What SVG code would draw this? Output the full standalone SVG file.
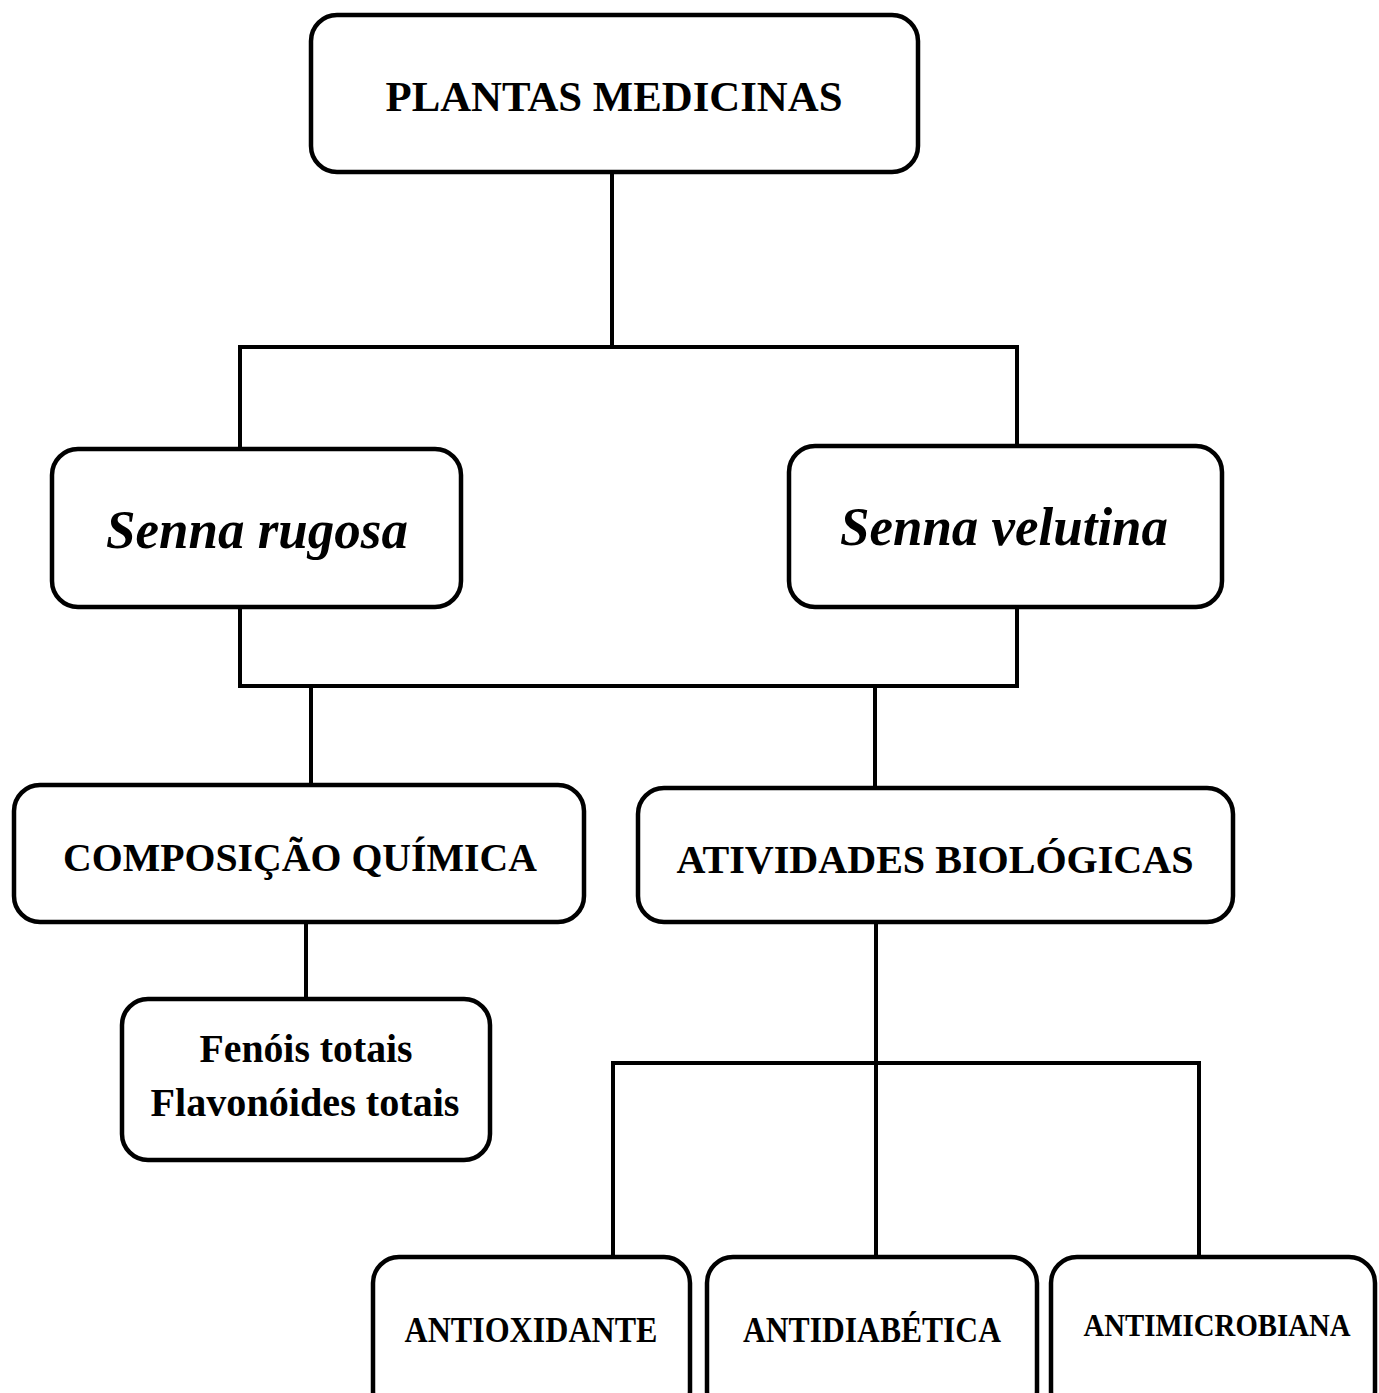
<svg xmlns="http://www.w3.org/2000/svg" width="1379" height="1393" viewBox="0 0 1379 1393">
<style>
.box{fill:#fff;stroke:#000;stroke-width:4.5}
.ln{fill:none;stroke:#000;stroke-width:4;stroke-linecap:square}
text{font-family:'Liberation Serif','Times New Roman',Times,serif;font-weight:700;fill:#000;text-anchor:middle}
.i{font-style:italic}
</style>
<rect width="1379" height="1393" fill="#fff"/>
<g id="connectors">
<path class="ln" d="M612 172V347M240 347H1017M240 347V447M1017 347V446"/>
<path class="ln" d="M240 607V686H1017V607M311 686V785M875 686V788"/>
<path class="ln" d="M306 922V999"/>
<path class="ln" d="M876 922V1255M613 1063H1199M613 1063V1255M1199 1063V1255"/>
</g>
<g id="n-plantas">
<rect class="box" x="311" y="15" width="607" height="157" rx="26"/>
<text x="614" y="111" font-size="43" textLength="457" lengthAdjust="spacingAndGlyphs">PLANTAS MEDICINAS</text>
</g>
<g id="n-rugosa">
<rect class="box" x="52" y="449" width="409" height="158" rx="26"/>
<text class="i" x="257" y="548" font-size="54" textLength="302" lengthAdjust="spacingAndGlyphs">Senna rugosa</text>
</g>
<g id="n-velutina">
<rect class="box" x="789" y="446" width="433" height="161" rx="26"/>
<text class="i" x="1004" y="545" font-size="54" textLength="328" lengthAdjust="spacingAndGlyphs">Senna velutina</text>
</g>
<g id="n-composicao">
<rect class="box" x="14" y="785" width="570" height="137" rx="26"/>
<text x="300" y="871" font-size="41" textLength="474" lengthAdjust="spacingAndGlyphs">COMPOSIÇÃO QUÍMICA</text>
</g>
<g id="n-atividades">
<rect class="box" x="638" y="788" width="595" height="134" rx="26"/>
<text x="935" y="873" font-size="41" textLength="517" lengthAdjust="spacingAndGlyphs">ATIVIDADES BIOLÓGICAS</text>
</g>
<g id="n-fenois">
<rect class="box" x="122" y="999" width="368" height="161" rx="26"/>
<text x="306" y="1062" font-size="39" textLength="213" lengthAdjust="spacingAndGlyphs">Fenóis totais</text>
<text x="305" y="1116" font-size="39" textLength="309" lengthAdjust="spacingAndGlyphs">Flavonóides totais</text>
</g>
<g id="n-antioxidante">
<rect class="box" x="373" y="1257" width="317" height="160" rx="26"/>
<text x="531" y="1342" font-size="35" textLength="253" lengthAdjust="spacingAndGlyphs">ANTIOXIDANTE</text>
</g>
<g id="n-antidiabetica">
<rect class="box" x="707" y="1257" width="330" height="160" rx="26"/>
<text x="872" y="1342" font-size="35" textLength="258" lengthAdjust="spacingAndGlyphs">ANTIDIABÉTICA</text>
</g>
<g id="n-antimicrobiana">
<rect class="box" x="1051" y="1257" width="324" height="160" rx="26"/>
<text x="1217" y="1336" font-size="32" textLength="267" lengthAdjust="spacingAndGlyphs">ANTIMICROBIANA</text>
</g>
</svg>
